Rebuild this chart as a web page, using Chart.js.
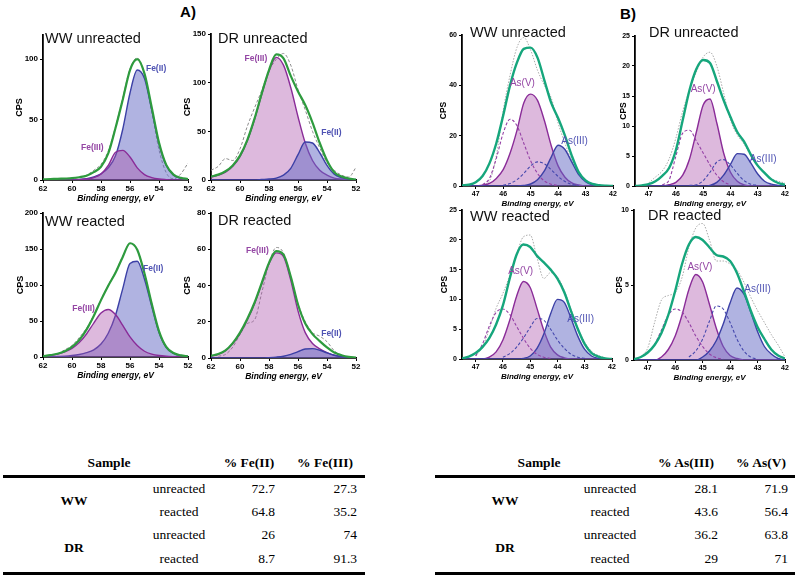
<!DOCTYPE html>
<html>
<head>
<meta charset="utf-8">
<script src="https://cdn.jsdelivr.net/npm/chart.js@4.4.0/dist/chart.umd.min.js"></script>
<style>
  html, body { margin: 0; padding: 0; background: #fff; }
  body { width: 800px; height: 576px; position: relative; overflow: hidden; font-family: "Liberation Sans", Arial, sans-serif; }
  canvas { position: absolute; }
  .tag { position: absolute; font: bold 15px "Liberation Sans", Arial, sans-serif; transform: translate(-50%, -50%); }
  .cell { position: absolute; white-space: nowrap; line-height: 1; font-family: "Liberation Serif", "Times New Roman", serif; font-size: 13.5px; color: #000; }
  .rule { position: absolute; height: 3px; background: #000; }
</style>
</head>
<body>
<div class="tag" style="left:188px;top:11px">A)</div>
<div class="tag" style="left:628px;top:13px">B)</div>
<script>
// binding energy grids (eV)
const feBE = [62, 61.5, 61, 60.5, 60, 59.5, 59, 58.5, 58, 57.5, 57, 56.5, 56, 55.5, 55, 54.5, 54, 53.5, 53, 52.5, 52];
const asBE = [47.5, 47.25, 47, 46.75, 46.5, 46.25, 46, 45.75, 45.5, 45.25, 45, 44.75, 44.5, 44.25, 44, 43.75, 43.5, 43.25, 43, 42.75, 42.5, 42.25, 42];

// tick labels
const feTicks = [62, 60, 58, 56, 54, 52];
const asTicks = [47, 46, 45, 44, 43, 42];
const wwUnrFeY = [0, 50, 100];
const drUnrFeY = [0, 50, 100, 150];
const wwReaFeY = [0, 50, 100, 150, 200];
const drReaFeY = [0, 20, 40, 60, 80];
const wwUnrAsY = [0, 20, 40, 60];
const drUnrAsY = [0, 5, 10, 15, 20, 25];
const wwReaAsY = [0, 5, 10, 15, 20, 25];
const drReaAsY = [0, 5, 10];

// Fe 2p - WW unreacted
const wwUnrFe2 = [0, 0, 0, 0, 0.2, 0.5, 1, 2.5, 5, 10, 20, 42, 72, 91, 84, 58, 30, 12, 4, 1.5, 0.5];
const wwUnrFe3 = [0, 0, 0, 0, 0.1, 0.3, 0.8, 2, 5, 12, 23, 24.5, 19, 10, 4.5, 2, 0.8, 0.3, 0, 0, 0];
const wwUnrFeEnv = [0.5, 0.7, 1, 1.2, 1.5, 2.3, 3.5, 6.5, 11, 22, 43, 66.5, 91, 100, 88, 60, 31, 12.5, 4.5, 1.8, 0.8];
const wwUnrFeRaw = [null, null, null, 0.8, 1, 2, 4, 8, 13, 24, 44, 68, 92, 101, 87, 57, 25, 6, 1, 5, 14];
// Fe 2p - DR unreacted
const drUnrFe2 = [0, 0, 0, 0, 0, 0, 0, 0.5, 1, 2, 5, 12, 26, 39, 38, 28, 15, 6, 2.5, 1, 0.5];
const drUnrFe3 = [3, 5, 8, 14, 24, 40, 62, 88, 112, 126, 118, 95, 65, 38, 20, 10, 5, 2, 1, 0.5, 0];
const drUnrFeEnv = [3.5, 5.5, 9, 15, 25, 41, 63, 89, 113, 129, 125, 107, 91, 77, 59, 38, 20, 8, 3.5, 1.5, 0.5];
const drUnrFeRaw = [10, 14, 22, 20, 32, 55, 74, 92, 112, 124, 130, 118, 93, 72, 50, 33, 18, 10, 5, 3, 13];
// Fe 2p - WW reacted
const wwReaFe2 = [0, 0.3, 0.6, 1, 2, 3.5, 6, 10, 18, 33, 58, 95, 130, 133, 108, 70, 34, 13, 5, 2, 1];
const wwReaFe3 = [1, 2, 4, 7, 12, 20, 32, 47, 61, 66, 59, 44, 28, 16, 8, 4, 2, 1, 0.5, 0.2, 0];
const wwReaFeEnv = [1, 2.5, 4.5, 8, 14, 23.5, 38, 57, 79, 99, 117, 139, 158, 149, 116, 74, 36, 14, 5.5, 2.2, 1];
const wwReaFeRaw = [null, null, 4, 10, 16, 27, 40, 58, 80, 100, 118, 140, 158, 149, 116, 74, 36, 14, 5, 2, 1];
// Fe 2p - DR reacted
const drReaFe2 = [0, 0, 0, 0, 0, 0, 0, 0, 0.2, 0.5, 1, 2, 3.5, 5, 5.2, 4.3, 2.8, 1.5, 0.7, 0.3, 0.1];
const drReaFe3 = [1, 2, 4, 8, 13.5, 21, 30, 41, 52, 58, 56, 43, 26, 14, 8, 5, 3, 1.5, 0.8, 0.3, 0.1];
const drReaFeEnv = [1.2, 2.2, 4.2, 8.2, 14, 21.5, 30.5, 41.5, 52.5, 59, 57, 45, 29.5, 19, 13.2, 9.3, 5.8, 3, 1.5, 0.6, 0.2];
const drReaFeRaw = [null, 1, 2, 6, 13, 19, 21, 36, 52, 61, 58, 45, 30, 20, 14, 12, 9, 4, 1.5, 0.5, null];

// As 3d - WW unreacted
const wwUnrAsV = [0, 0, 0, 0.3, 1, 3, 6.5, 13, 22, 33, 36.5, 34, 26, 16, 8, 3.5, 1.2, 0.4, 0, 0, 0, 0, 0];
const wwUnrAsIII = [0, 0, 0, 0, 0, 0, 0, 0, 0, 0.2, 0.8, 2.5, 6, 11.5, 16.2, 14.5, 9.5, 4.5, 1.7, 0.5, 0.1, 0, 0];
const wwUnrAsVd = [null, null, null, 0.5, 3, 11, 21, 26.5, 24, 17, 10, 5, 2, 0.7, 0.2, null, null, null, null, null, null, null, null];
const wwUnrAsIIId = [null, null, null, null, null, null, 0.3, 1, 2.5, 5, 8, 9.6, 8.8, 6.5, 3.8, 1.8, 0.6, 0.2, null, null, null, null, null];
const wwUnrAsEnv = [0.2, 0.5, 1.5, 4, 9, 17, 28, 40, 49, 54.5, 55, 51, 42, 33, 27, 20, 12, 5.5, 2.2, 0.8, 0.3, 0.1, 0];
const wwUnrAsRaw = [null, null, null, 0.5, 2, 12, 30, 44, 55, 59, 54, 46, 40, 35, 25, 17, 10, 5, 2, 1, 0.5, null, null];
// As 3d - DR unreacted
const drUnrAsV = [0, 0, 0, 0, 0, 0.2, 0.6, 1.8, 4.5, 9, 13.5, 14.5, 10.5, 5.5, 2.3, 0.8, 0.2, 0, 0, 0, 0, 0, 0];
const drUnrAsIII = [0, 0, 0, 0, 0, 0, 0, 0, 0, 0, 0, 0.1, 0.6, 1.8, 3.6, 5.4, 5.3, 3.8, 2, 0.8, 0.3, 0.1, 0];
const drUnrAsVd = [null, null, null, null, 0.2, 1, 5, 8.8, 9.3, 7.5, 5.5, 3.5, 1.8, 0.7, 0.2, null, null, null, null, null, null, null, null];
const drUnrAsIIId = [null, null, null, null, null, null, null, null, 0.1, 0.2, 0.9, 2.3, 4, 4.4, 3.5, 2.1, 0.9, 0.3, 0.1, null, null, null, null];
const drUnrAsEnv = [0, 0.1, 0.3, 0.8, 1.7, 3, 6, 11, 16, 19.5, 21, 20.5, 17.5, 14.3, 11.5, 9, 7.4, 5.2, 3.4, 2.2, 1.1, 0.5, 0.2];
const drUnrAsRaw = [null, null, 0.5, 1.5, 2.5, 4.5, 8, 12.5, 16, 19, 21.5, 22.3, 20, 15.5, 11, 8.5, 7, 5, 3.5, 2.2, 1.2, 0.8, 0.5];
// As 3d - WW reacted
const wwReaAsV = [0, 0, 0, 0, 0.3, 1.2, 3.2, 6.5, 10.5, 13, 12, 8.5, 4.8, 2, 0.7, 0.2, 0, 0, 0, 0, 0, 0, 0];
const wwReaAsIII = [0, 0, 0, 0, 0, 0, 0, 0, 0, 0.1, 0.5, 1.8, 4.2, 7.6, 10, 9.5, 6.8, 3.8, 1.6, 0.5, 0.1, 0, 0];
const wwReaAsVd = [null, null, 0.5, 2.5, 5.5, 7.8, 8.4, 7.5, 5.5, 3.5, 1.8, 0.8, 0.3, 0.1, null, null, null, null, null, null, null, null, null];
const wwReaAsIIId = [null, null, null, null, null, null, 0.3, 0.9, 2, 3.5, 5.3, 6.8, 6.5, 5, 3.2, 1.8, 0.8, 0.3, 0.1, null, null, null, null];
const wwReaAsEnv = [0.1, 0.4, 1, 2, 3.5, 5.8, 9, 13.5, 17.5, 19.2, 18.8, 17.3, 16.2, 15, 13.5, 11.2, 8, 5, 2.5, 1, 0.4, 0.1, 0];
const wwReaAsRaw = [null, null, 0.5, 2, 5, 8.5, 11, 14, 17.5, 20.5, 20.8, 17, 13.5, 14.5, 13.8, 11.5, 8.3, 5.2, 2.8, 1.3, 0.6, 0.2, null];
// As 3d - DR reacted
const drReaAsV = [0, 0, 0, 0, 0.2, 0.7, 1.6, 3, 4.7, 5.7, 5.2, 3.7, 2.1, 0.9, 0.3, 0.1, 0, 0, 0, 0, 0, 0, 0];
const drReaAsIII = [0, 0, 0, 0, 0, 0, 0, 0, 0, 0, 0.2, 0.6, 1.3, 2.4, 3.8, 4.8, 4.4, 3.2, 1.9, 0.9, 0.4, 0.1, 0];
const drReaAsVd = [null, null, null, 1, 2, 3, 3.4, 3.2, 2.5, 1.6, 0.9, 0.4, 0.15, 0.05, null, null, null, null, null, null, null, null, null];
const drReaAsIIId = [null, null, null, null, null, null, null, null, 0.2, 0.6, 1.4, 2.6, 3.6, 3.4, 2.5, 1.4, 0.6, 0.2, 0.05, null, null, null, null];
const drReaAsEnv = [0.05, 0.2, 0.5, 1, 1.8, 3, 4.6, 6.4, 7.7, 8.2, 8, 7.5, 7, 6.9, 6.6, 5.8, 4.6, 3.3, 2.2, 1.4, 0.7, 0.3, 0.1];
const drReaAsRaw = [null, 0.2, 0.8, 2.5, 4, 4.3, 4.5, 5.5, 7.5, 8.8, 9.1, 8, 6.6, 6.6, 6.4, 6, 5.2, 4.2, 3.3, 2.5, 1.7, 1, 0.2];

// tables
const sampleNames = ['WW', 'DR'];
const sampleStates = ['unreacted', 'reacted'];
const feHeads = ['% Fe(II)', '% Fe(III)'];
const pctFeII = [72.7, 64.8, 26, 8.7];
const pctFeIII = [27.3, 35.2, 74, 91.3];
const asHeads = ['% As(III)', '% As(V)'];
const pctAsIII = [28.1, 43.6, 36.2, 29];
const pctAsV = [71.9, 56.4, 63.8, 71];

const SANS = '"Liberation Sans", Arial, sans-serif';
const YW = 40, TP = 14, RP = 10, XH = 28;

const styles = {
    fe2:   { borderColor: '#3c40a6', backgroundColor: 'rgba(98,104,196,0.5)', borderWidth: 1.4, fill: 'origin' },
    fe3:   { borderColor: '#8a2c98', backgroundColor: 'rgba(170,80,170,0.4)', borderWidth: 1.4, fill: 'origin' },
    envA:  { borderColor: '#2e9b3e', borderWidth: 2.2, fill: false },
    envB:  { borderColor: '#16a67c', borderWidth: 2.4, fill: false },
    rawA:  { borderColor: '#8c8c8c', borderWidth: 1, borderDash: [3, 2], fill: false },
    rawB:  { borderColor: '#aaaaaa', borderWidth: 1, borderDash: [1.5, 1.5], fill: false },
    vd:    { borderColor: '#9440a5', borderWidth: 1.1, borderDash: [3, 2], fill: false },
    iiid:  { borderColor: '#4548ad', borderWidth: 1.1, borderDash: [3, 2], fill: false }
};
const labelColor = { fe2: '#4f53b3', fe3: '#9446a4' };

// text drawn at data positions: peak names and the panel title
const labelPlugin = {
    id: 'peakLabels',
    afterDatasetsDraw(chart, args, opts) {
        const { ctx, scales } = chart;
        ctx.save();
        ctx.textBaseline = 'middle';
        opts.items.forEach(it => {
            ctx.font = opts.labelFont;
            ctx.fillStyle = labelColor[it.kind];
            ctx.textAlign = 'center';
            ctx.fillText(it.text, scales.x.getPixelForValue(it.x), scales.y.getPixelForValue(it.y));
        });
        ctx.font = '14.5px ' + SANS;
        ctx.fillStyle = '#111';
        ctx.textAlign = 'left';
        ctx.fillText(opts.title, opts.tx, opts.ty);
        ctx.restore();
    }
};

const panels = [
    { title: 'WW unreacted', be: feBE, fe: true, ymax: 120, yticks: wwUnrFeY,
      area: { l: 43, r: 188, t: 35, b: 180 }, tpos: [45, 39], cpsX: 20,
      series: [[wwUnrFeEnv, 'envA'], [wwUnrFe3, 'fe3'], [wwUnrFe2, 'fe2'], [wwUnrFeRaw, 'rawA']],
      labels: [{ text: 'Fe(II)', x: 54.2, y: 92, kind: 'fe2' }, { text: 'Fe(III)', x: 58.6, y: 27, kind: 'fe3' }] },
    { title: 'DR unreacted', be: feBE, fe: true, ymax: 150, yticks: drUnrFeY,
      area: { l: 211, r: 356, t: 34, b: 180 }, tpos: [218, 39], cpsX: 188,
      series: [[drUnrFeEnv, 'envA'], [drUnrFe2, 'fe2'], [drUnrFe3, 'fe3'], [drUnrFeRaw, 'rawA']],
      labels: [{ text: 'Fe(III)', x: 58.9, y: 125, kind: 'fe3' }, { text: 'Fe(II)', x: 53.7, y: 48.6, kind: 'fe2' }] },
    { title: 'WW reacted', be: feBE, fe: true, ymax: 200, yticks: wwReaFeY,
      area: { l: 43, r: 188, t: 213, b: 357 }, tpos: [45, 222], cpsX: 21,
      series: [[wwReaFeEnv, 'envA'], [wwReaFe3, 'fe3'], [wwReaFe2, 'fe2'], [wwReaFeRaw, 'rawA']],
      labels: [{ text: 'Fe(II)', x: 54.4, y: 123, kind: 'fe2' }, { text: 'Fe(III)', x: 59.2, y: 67.6, kind: 'fe3' }] },
    { title: 'DR reacted', be: feBE, fe: true, ymax: 80, yticks: drReaFeY,
      area: { l: 211, r: 356, t: 213, b: 358 }, tpos: [218, 221], cpsX: 188,
      series: [[drReaFeEnv, 'envA'], [drReaFe2, 'fe2'], [drReaFe3, 'fe3'], [drReaFeRaw, 'rawA']],
      labels: [{ text: 'Fe(III)', x: 58.8, y: 59, kind: 'fe3' }, { text: 'Fe(II)', x: 53.7, y: 13.5, kind: 'fe2' }] },
    { title: 'WW unreacted', be: asBE, fe: false, ymax: 60, yticks: wwUnrAsY,
      area: { l: 462, r: 613, t: 35, b: 186 }, tpos: [470, 33], cpsX: 444,
      series: [[wwUnrAsEnv, 'envB'], [wwUnrAsVd, 'vd'], [wwUnrAsIIId, 'iiid'], [wwUnrAsIII, 'fe2'], [wwUnrAsV, 'fe3'], [wwUnrAsRaw, 'rawB']],
      labels: [{ text: 'As(V)', x: 45.3, y: 40.7, kind: 'fe3' }, { text: 'As(III)', x: 43.4, y: 17.6, kind: 'fe2' }] },
    { title: 'DR unreacted', be: asBE, fe: false, ymax: 25, yticks: drUnrAsY,
      area: { l: 635, r: 785, t: 36, b: 186 }, tpos: [649, 33], cpsX: 624,
      series: [[drUnrAsEnv, 'envB'], [drUnrAsVd, 'vd'], [drUnrAsIIId, 'iiid'], [drUnrAsIII, 'fe2'], [drUnrAsV, 'fe3'], [drUnrAsRaw, 'rawB']],
      labels: [{ text: 'As(V)', x: 45.0, y: 16.1, kind: 'fe3' }, { text: 'As(III)', x: 42.8, y: 4.4, kind: 'fe2' }] },
    { title: 'WW reacted', be: asBE, fe: false, ymax: 25, yticks: wwReaAsY,
      area: { l: 462, r: 612, t: 210, b: 359 }, tpos: [470, 217], cpsX: 445,
      series: [[wwReaAsEnv, 'envB'], [wwReaAsVd, 'vd'], [wwReaAsIIId, 'iiid'], [wwReaAsIII, 'fe2'], [wwReaAsV, 'fe3'], [wwReaAsRaw, 'rawB']],
      labels: [{ text: 'As(V)', x: 45.35, y: 14.7, kind: 'fe3' }, { text: 'As(III)', x: 43.15, y: 6.6, kind: 'fe2' }] },
    { title: 'DR reacted', be: asBE, fe: false, ymax: 10, yticks: drReaAsY,
      area: { l: 634, r: 785, t: 210, b: 360 }, tpos: [648, 216], cpsX: 620,
      series: [[drReaAsEnv, 'envB'], [drReaAsVd, 'vd'], [drReaAsIIId, 'iiid'], [drReaAsIII, 'fe2'], [drReaAsV, 'fe3'], [drReaAsRaw, 'rawB']],
      labels: [{ text: 'As(V)', x: 45.1, y: 6.2, kind: 'fe3' }, { text: 'As(III)', x: 43.0, y: 4.7, kind: 'fe2' }] }
];

panels.forEach(p => {
    const a = p.area;
    const left = a.l - YW, top = a.t - TP;
    const w = a.r + RP - left, h = a.b + XH - top;
    const cv = document.createElement('canvas');
    cv.width = w; cv.height = h;
    cv.style.left = left + 'px'; cv.style.top = top + 'px';
    cv.style.width = w + 'px'; cv.style.height = h + 'px';
    document.body.appendChild(cv);

    const tickSize = p.fe ? 8 : 7;
    const xTitleSize = p.fe ? 8.5 : 8;
    const xTitleGap = p.fe ? 18.5 : 17.5;
    const cpsSize = p.fe ? 9 : 8.5;
    const xticks = p.fe ? feTicks : asTicks;
    const labelFont = p.fe ? 'bold 8.5px ' + SANS : '10px ' + SANS;

    new Chart(cv, {
        type: 'line',
        data: {
            datasets: p.series.map(([arr, kind]) => Object.assign({}, styles[kind], {
                data: p.be.map((e, i) => ({ x: e, y: arr[i] })),
                pointRadius: 0,
                cubicInterpolationMode: 'monotone',
                spanGaps: false
            }))
        },
        options: {
            responsive: false,
            animation: false,
            devicePixelRatio: 1,
            layout: { padding: { top: TP, right: RP, left: 0, bottom: 0 } },
            plugins: {
                legend: { display: false },
                tooltip: { enabled: false },
                peakLabels: { items: p.labels, labelFont: labelFont, title: p.title, tx: p.tpos[0] - left, ty: p.tpos[1] - top }
            },
            scales: {
                x: {
                    type: 'linear',
                    reverse: true,
                    min: p.fe ? 52 : 42,
                    max: p.fe ? 62 : 47.5,
                    afterBuildTicks: s => { s.ticks = xticks.map(v => ({ value: v })); },
                    afterFit: s => { s.height = XH; s.paddingLeft = 0; s.paddingRight = 0; },
                    grid: { drawOnChartArea: false, tickLength: 3, color: '#000' },
                    border: { color: '#000', width: 1.8 },
                    ticks: { color: '#000', padding: 1, maxRotation: 0, autoSkip: false,
                             font: { family: SANS, size: tickSize, weight: 'bold' } },
                    title: { display: true, text: 'Binding energy, eV', color: '#000',
                             font: { family: SANS, size: xTitleSize, weight: 'bold', style: 'italic' },
                             padding: { top: 0, bottom: XH - xTitleGap - xTitleSize * 0.6 } }
                },
                y: {
                    min: 0,
                    max: p.ymax,
                    afterBuildTicks: s => { s.ticks = p.yticks.map(v => ({ value: v })); },
                    afterFit: s => { s.width = YW; s.paddingTop = 0; s.paddingBottom = 0; },
                    grid: { drawOnChartArea: false, tickLength: 3, color: '#000' },
                    border: { color: '#000', width: 1.8 },
                    ticks: { color: '#000', padding: 2, font: { family: SANS, size: tickSize, weight: 'bold' } },
                    title: { display: true, text: 'CPS', color: '#000',
                             font: { family: SANS, size: cpsSize, weight: 'bold' },
                             padding: { top: p.cpsX - left - cpsSize * 0.6, bottom: 0 } }
                }
            }
        },
        plugins: [labelPlugin]
    });
});

// summary tables
function putText(txt, x, y, align, bold) {
    const d = document.createElement('div');
    d.className = 'cell';
    d.textContent = txt;
    d.style.top = y + 'px';
    if (bold) d.style.fontWeight = 'bold';
    d.style.left = x + 'px';
    d.style.transform = align === 'right' ? 'translate(-100%, -50%)' : 'translate(-50%, -50%)';
    document.body.appendChild(d);
}
function putRule(x0, x1, y) {
    const r = document.createElement('div');
    r.className = 'rule';
    r.style.left = x0 + 'px';
    r.style.width = (x1 - x0) + 'px';
    r.style.top = (y - 1.5) + 'px';
    document.body.appendChild(r);
}
function buildTable(t) {
    const headY = 463, rowY = [489, 512, 535, 559], groupY = [501, 548];
    putText('Sample', t.sampleX, headY, 'center', true);
    putText(t.heads[0], t.headX[0], headY, 'center', true);
    putText(t.heads[1], t.headX[1], headY, 'center', true);
    putRule(t.x0, t.x1, 476);
    putRule(t.x0, t.x1, 573);
    sampleNames.forEach((n, g) => putText(n, t.groupX, groupY[g], 'center', true));
    rowY.forEach((y, i) => {
        putText(sampleStates[i % 2], t.stateX, y, 'center', false);
        putText(String(t.colA[i]), t.valX[0], y, 'right', false);
        putText(String(t.colB[i]), t.valX[1], y, 'right', false);
    });
}
buildTable({ x0: 3, x1: 365, sampleX: 109, heads: feHeads, headX: [249, 325], groupX: 74,
             stateX: 179, valX: [275, 357], colA: pctFeII, colB: pctFeIII });
buildTable({ x0: 435, x1: 795, sampleX: 539, heads: asHeads, headX: [686, 761], groupX: 505,
             stateX: 610, valX: [718, 788], colA: pctAsIII, colB: pctAsV });
</script>
</body>
</html>
